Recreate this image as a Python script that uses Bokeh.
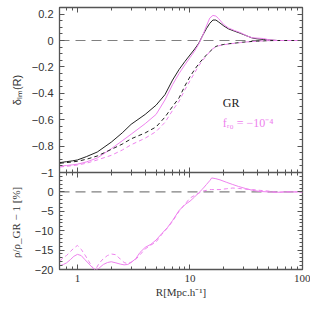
from bokeh.plotting import figure
from bokeh.models import Range1d, FixedTicker, LinearAxis, LogAxis, Label
from bokeh.layouts import column
from bokeh.embed import file_html
from bokeh.resources import INLINE

# ---------------- data ----------------
r_top = [0.7, 0.8, 0.9, 1.0, 1.2, 1.5, 2.0, 2.5, 3.0, 4.0, 5.0, 6.0, 7.0, 8.0, 9.0,
         10, 11, 12, 13, 14, 15, 16, 17, 18, 20, 22, 25, 28, 32, 36, 40, 45, 50, 60, 70, 80, 100]
gr_solid = [-0.925, -0.918, -0.912, -0.905, -0.88, -0.845, -0.77, -0.70, -0.635, -0.56, -0.49,
            -0.41, -0.30, -0.22, -0.16, -0.11, -0.065, -0.02, 0.04, 0.09, 0.13, 0.155, 0.155,
            0.14, 0.11, 0.088, 0.07, 0.055, 0.035, 0.018, 0.012, 0.008, 0.004, 0.0, 0.0, 0.0, 0.0]
fr_solid = [-0.952, -0.947, -0.942, -0.937, -0.92, -0.89, -0.82, -0.76, -0.71, -0.63, -0.56,
            -0.45, -0.335, -0.25, -0.185, -0.13, -0.08, -0.025, 0.04, 0.11, 0.17, 0.19, 0.185,
            0.165, 0.12, 0.095, 0.075, 0.06, 0.035, 0.02, 0.018, 0.015, 0.006, 0.0, 0.0, 0.0, 0.0]
gr_dashed = [-0.93, -0.925, -0.92, -0.915, -0.9, -0.875, -0.825, -0.785, -0.745, -0.70, -0.655,
             -0.58, -0.50, -0.435, -0.345, -0.275, -0.22, -0.175, -0.14, -0.11, -0.085, -0.062,
             -0.045, -0.038, -0.03, -0.025, -0.02, -0.015, -0.01, -0.007, -0.005, -0.003, -0.001,
             0.0, 0.0, 0.0, 0.0]
fr_dashed = [-0.958, -0.953, -0.948, -0.943, -0.93, -0.905, -0.87, -0.83, -0.79, -0.74, -0.69,
             -0.62, -0.53, -0.46, -0.375, -0.305, -0.245, -0.19, -0.15, -0.115, -0.085, -0.062,
             -0.048, -0.04, -0.032, -0.027, -0.021, -0.016, -0.011, -0.008, -0.005, -0.003, -0.001,
             0.0, 0.0, 0.0, 0.0]

r_bot = [0.70, 0.75, 0.80, 0.87, 0.93, 1.00, 1.08, 1.17, 1.27, 1.37, 1.45, 1.55, 1.70, 1.85,
         2.00, 2.20, 2.40, 2.60, 2.80, 3.00, 3.30, 3.60, 4.00, 4.50, 5.00, 5.60, 6.30, 7.00,
         8.00, 9.00, 10.0, 11.0, 12.0, 13.0, 14.0, 15.0, 15.6, 17.0, 18.5, 21.0, 24.0, 27.0,
         31.0, 36.0, 42.0, 50.0, 60.0, 70.0, 85.0, 100.0]
ratio_solid = [-19.0, -18.7, -18.3, -17.4, -16.6, -16.1, -16.4, -17.5, -18.6, -19.6, -20.2, -19.7,
               -18.7, -18.2, -18.0, -18.3, -18.6, -18.8, -18.7, -18.2, -17.2, -15.6, -14.3, -13.5,
               -12.4, -10.8, -9.2, -7.4, -4.8, -3.3, -2.4, -1.3, -0.2, 0.8, 1.9, 2.9, 3.6, 3.4,
               3.1, 2.5, 1.9, 1.4, 0.9, 0.4, 0.1, 0.0, -0.1, 0.0, 0.0, 0.0]
ratio_dashed = [-17.8, -16.9, -16.4, -15.3, -14.5, -13.8, -14.8, -16.3, -18.0, -19.6, -20.0, -18.5,
                -17.2, -16.4, -16.0, -16.2, -17.3, -18.2, -18.5, -18.1, -17.4, -16.2, -14.7, -13.7,
                -12.9, -11.0, -9.3, -7.6, -5.0, -3.2, -1.6, -0.9, -0.3, 0.2, 0.4, 0.6, 0.6, 0.6,
                0.6, 0.8, 1.0, 0.9, 0.7, 0.6, 0.4, 0.2, -0.1, 0.0, 0.0, 0.0]

zero_x = [0.693, 100]
zero_y = [0, 0]

x_ticks = [1, 10, 100]
x_tick_labels = ["1", "10", "100"]
x_minor = [0.7, 0.8, 0.9, 2, 3, 4, 5, 6, 7, 8, 9, 20, 30, 40, 50, 60, 70, 80, 90]

top_yticks = [-1, -0.8, -0.6, -0.4, -0.2, 0, 0.2]
top_ylabels = ["\u22121", "\u22120.8", "\u22120.6", "\u22120.4", "\u22120.2", "0", "0.2"]
top_yminor = [round(-1 + 0.05 * i, 2) for i in range(26)]

bot_yticks = [-20, -15, -10, -5, 0]
bot_ylabels = ["\u221220", "\u221215", "\u221210", "\u22125", "0"]
bot_yminor = list(range(-20, 6))

VIOLET = "#ee82ee"
BLACK = "#222222"
GREY = "#808080"
FRAME = "#555555"
OVERLAP = 8


def style_axis(ax, labels=True):
    ax.axis_line_color = None
    ax.major_tick_in = 5
    ax.major_tick_out = 0
    ax.minor_tick_in = 3
    ax.minor_tick_out = 0
    ax.major_tick_line_color = FRAME
    ax.minor_tick_line_color = FRAME
    if not labels:
        ax.major_label_text_font_size = "1px"
        ax.major_label_text_alpha = 0
        ax.major_label_standoff = 0


x_range = Range1d(0.693, 100)

# ---------------- top panel ----------------
p1 = figure(frame_width=243, frame_height=165, x_axis_type="log", x_range=x_range,
            y_range=Range1d(-1, 0.25), output_backend="svg", toolbar_location=None,
            min_border_left=59, min_border_right=8, min_border_top=7,
            min_border_bottom=OVERLAP)
p1.grid.visible = False
p1.outline_line_color = FRAME
p1.outline_line_width = 1.3
p1.border_fill_alpha = 0

bx = p1.below[0]
bx.ticker = FixedTicker(ticks=x_ticks, minor_ticks=x_minor)
style_axis(bx, labels=False)
ly = p1.left[0]
ly.ticker = FixedTicker(ticks=top_yticks, minor_ticks=top_yminor)
ly.major_label_overrides = dict(zip(top_yticks, top_ylabels))
style_axis(ly)
ly.major_label_text_font = "Liberation Sans"
ly.major_label_text_font_size = "11px"
ly.major_label_text_color = "#333333"
ly.major_label_standoff = 6
ly.axis_label = "\u03b4\u2097\u2098(R)"
ly.axis_label_text_font = "Liberation Sans"
ly.axis_label_text_font_size = "11px"
ly.axis_label_text_font_style = "normal"
ly.axis_label_text_color = "#333333"
ly.axis_label_standoff = 6

ax_top = LogAxis(ticker=FixedTicker(ticks=x_ticks, minor_ticks=x_minor))
style_axis(ax_top, labels=False)
p1.add_layout(ax_top, "above")
ax_r = LinearAxis(ticker=FixedTicker(ticks=top_yticks, minor_ticks=top_yminor))
style_axis(ax_r, labels=False)
p1.add_layout(ax_r, "right")

p1.line(zero_x, zero_y, line_color=GREY, line_width=1.1, line_dash="10 6")
p1.line(r_top, gr_solid, line_color=BLACK, line_width=1)
p1.line(r_top, fr_solid, line_color=VIOLET, line_width=1)
p1.line(r_top, gr_dashed, line_color=BLACK, line_width=1, line_dash="4 3")
p1.line(r_top, fr_dashed, line_color=VIOLET, line_width=1, line_dash="4 3")

p1.add_layout(Label(x=19.6, y=-0.477, text="GR", text_font="Liberation Serif",
                    text_font_size="12px", text_color=BLACK, text_baseline="middle"))
p1.add_layout(Label(x=19.6, y=-0.624, text="f\u1d63\u2080 = \u221210\u207b\u2074",
                    text_font="Liberation Serif", text_font_size="12px", text_color=VIOLET,
                    text_baseline="middle"))

# ---------------- bottom panel ----------------
p2 = figure(frame_width=243, frame_height=97, x_axis_type="log", x_range=x_range,
            y_range=Range1d(-20, 5), output_backend="svg", toolbar_location=None,
            min_border_left=59, min_border_right=8, min_border_top=0, min_border_bottom=0,
            margin=(-OVERLAP, 0, 0, 0))
p2.grid.visible = False
p2.outline_line_color = FRAME
p2.outline_line_width = 1.3
p2.border_fill_alpha = 0

bx2 = p2.below[0]
bx2.ticker = FixedTicker(ticks=x_ticks, minor_ticks=x_minor)
bx2.major_label_overrides = dict(zip(x_ticks, x_tick_labels))
style_axis(bx2)
bx2.major_label_text_font = "Liberation Serif"
bx2.major_label_text_font_size = "11px"
bx2.major_label_text_color = "#333333"
bx2.major_label_standoff = 5
bx2.axis_label = "R[Mpc.h\u207b\u00b9]"
bx2.axis_label_text_font = "Liberation Serif"
bx2.axis_label_text_font_size = "11px"
bx2.axis_label_text_font_style = "normal"
bx2.axis_label_text_color = "#333333"
bx2.axis_label_standoff = 1

ly2 = p2.left[0]
ly2.ticker = FixedTicker(ticks=bot_yticks, minor_ticks=bot_yminor)
ly2.major_label_overrides = dict(zip(bot_yticks, bot_ylabels))
style_axis(ly2)
ly2.major_label_text_font = "Liberation Sans"
ly2.major_label_text_font_size = "11px"
ly2.major_label_text_color = "#333333"
ly2.major_label_standoff = 6
ly2.axis_label = "\u03c1/\u03c1_GR \u2212 1  [%]"
ly2.axis_label_text_font = "Liberation Serif"
ly2.axis_label_text_font_size = "11px"
ly2.axis_label_text_font_style = "normal"
ly2.axis_label_text_color = "#333333"
ly2.axis_label_standoff = 10

ax_top2 = LogAxis(ticker=FixedTicker(ticks=x_ticks, minor_ticks=x_minor))
style_axis(ax_top2, labels=False)
p2.add_layout(ax_top2, "above")
ax_r2 = LinearAxis(ticker=FixedTicker(ticks=bot_yticks, minor_ticks=bot_yminor))
style_axis(ax_r2, labels=False)
p2.add_layout(ax_r2, "right")

p2.line(zero_x, zero_y, line_color=GREY, line_width=1.1, line_dash="10 6")
p2.line(r_bot, ratio_solid, line_color=VIOLET, line_width=1)
p2.line(r_bot, ratio_dashed, line_color=VIOLET, line_width=1, line_dash="4 3")

layout = column(p1, p2, spacing=0)
open("out.html", "w").write(file_html(layout, INLINE))
